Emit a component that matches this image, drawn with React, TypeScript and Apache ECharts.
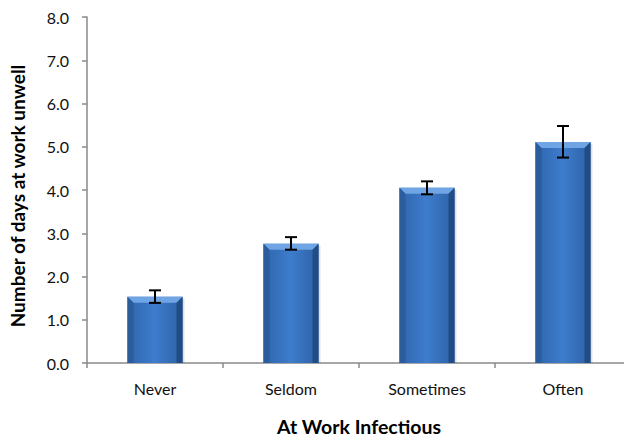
import React, { useEffect, useRef } from "react";
import * as echarts from "echarts";

const categories = ["Never", "Seldom", "Sometimes", "Often"];
const means = [1.53, 2.76, 4.05, 5.11];
const errLow = [1.39, 2.62, 3.9, 4.75];
const errHigh = [1.68, 2.91, 4.2, 5.48];
const yTicks = [0, 1, 2, 3, 4, 5, 6, 7, 8];
const xTitle = "At Work Infectious";
const yTitle = "Number of days at work unwell";

const FONT = "Lato, 'Open Sans', sans-serif";

export default function App() {
  const ref = useRef<HTMLDivElement>(null);
  useEffect(() => {
    if (!ref.current) return;
    const chart = echarts.init(ref.current, null, { renderer: "svg" });
    const barData = categories.map((c, i) => [i, means[i]]);
    const errData = categories.map((c, i) => [i, errLow[i], errHigh[i]]);
    chart.setOption({
      animation: false,
      backgroundColor: "#ffffff",
      grid: { left: 87, top: 17, bottom: 73, right: 9, containLabel: false },
      graphic: [
        {
          type: "text",
          x: 17,
          y: 196,
          rotation: Math.PI / 2,
          style: {
            text: yTitle,
            fontFamily: FONT,
            fontSize: 19,
            fontWeight: "bold",
            fill: "#000",
            align: "center",
            verticalAlign: "middle",
          },
        },
      ],
      xAxis: {
        type: "category",
        data: categories,
        name: xTitle,
        nameLocation: "middle",
        nameGap: 53,
        nameTextStyle: { fontFamily: FONT, fontSize: 19.5, fontWeight: "bold", color: "#000" },
        axisLine: { lineStyle: { color: "#8a8a8a", width: 1.5 } },
        axisTick: { show: true, length: 5, lineStyle: { color: "#8a8a8a", width: 1.5 } },
        axisLabel: { fontFamily: FONT, fontSize: 16, color: "#111", margin: 17 },
      },
      yAxis: {
        type: "value",
        min: 0,
        max: 8,
        interval: 1,
        axisLine: { show: true, lineStyle: { color: "#8a8a8a", width: 1.5 } },
        axisTick: { show: true, length: 5, lineStyle: { color: "#8a8a8a", width: 1.5 } },
        splitLine: { show: false },
        axisLabel: {
          fontFamily: FONT,
          fontSize: 16,
          color: "#111",
          margin: 18,
          formatter: (v: number) => (yTicks.includes(v) ? v.toFixed(1) : ""),
        },
      },
      series: [
        {
          type: "custom",
          data: barData,
          renderItem: (params: any, api: any) => {
            const x = api.value(0);
            const v = api.value(1);
            const top = api.coord([x, v]);
            const base = api.coord([x, 0]);
            const bw = api.size([1, 0])[0] * 0.405;
            const x0 = top[0] - bw / 2;
            const x1 = top[0] + bw / 2;
            const y0 = top[1];
            const y1 = base[1];
            const b = 6;
            return {
              type: "group",
              children: [
                {
                  type: "rect",
                  shape: { x: x0 + 2, y: y0 + 2, width: bw, height: y1 - y0 - 2 },
                  style: { fill: "rgba(0,0,0,0.12)" },
                },
                {
                  type: "rect",
                  shape: { x: x0, y: y0, width: bw, height: y1 - y0 },
                  style: {
                    fill: new echarts.graphic.LinearGradient(0, 0, 1, 0, [
                      { offset: 0, color: "#2f65ac" },
                      { offset: 0.5, color: "#3e7ccd" },
                      { offset: 1, color: "#2d61a3" },
                    ]),
                  },
                },
                {
                  type: "polygon",
                  shape: { points: [[x0, y0], [x1, y0], [x1 - b, y0 + b], [x0 + b, y0 + b]] },
                  style: { fill: "#70a5e5" },
                },
                {
                  type: "polygon",
                  shape: { points: [[x0, y0], [x0 + b, y0 + b], [x0 + b, y1], [x0, y1]] },
                  style: { fill: "#2b5c9b" },
                },
                {
                  type: "polygon",
                  shape: { points: [[x1, y0], [x1 - b, y0 + b], [x1 - b, y1], [x1, y1]] },
                  style: { fill: "#214d86" },
                },
              ],
            };
          },
          z: 2,
        },
        {
          type: "custom",
          data: errData,
          renderItem: (params: any, api: any) => {
            const x = api.value(0);
            const lo = api.coord([x, api.value(1)]);
            const hi = api.coord([x, api.value(2)]);
            const cap = 6;
            const st = { stroke: "#000", lineWidth: 2 };
            return {
              type: "group",
              children: [
                { type: "line", shape: { x1: lo[0], y1: lo[1], x2: hi[0], y2: hi[1] }, style: st },
                { type: "line", shape: { x1: lo[0] - cap, y1: lo[1], x2: lo[0] + cap, y2: lo[1] }, style: st },
                { type: "line", shape: { x1: hi[0] - cap, y1: hi[1], x2: hi[0] + cap, y2: hi[1] }, style: st },
              ],
            };
          },
          z: 3,
        },
      ],
    });
    return () => chart.dispose();
  }, []);
  return (
    <div style={{ width: 624, height: 441, position: "absolute", left: 0, top: 0, overflow: "hidden" }}>
      <div ref={ref} style={{ width: 640, height: 441 }} />
    </div>
  );
}
